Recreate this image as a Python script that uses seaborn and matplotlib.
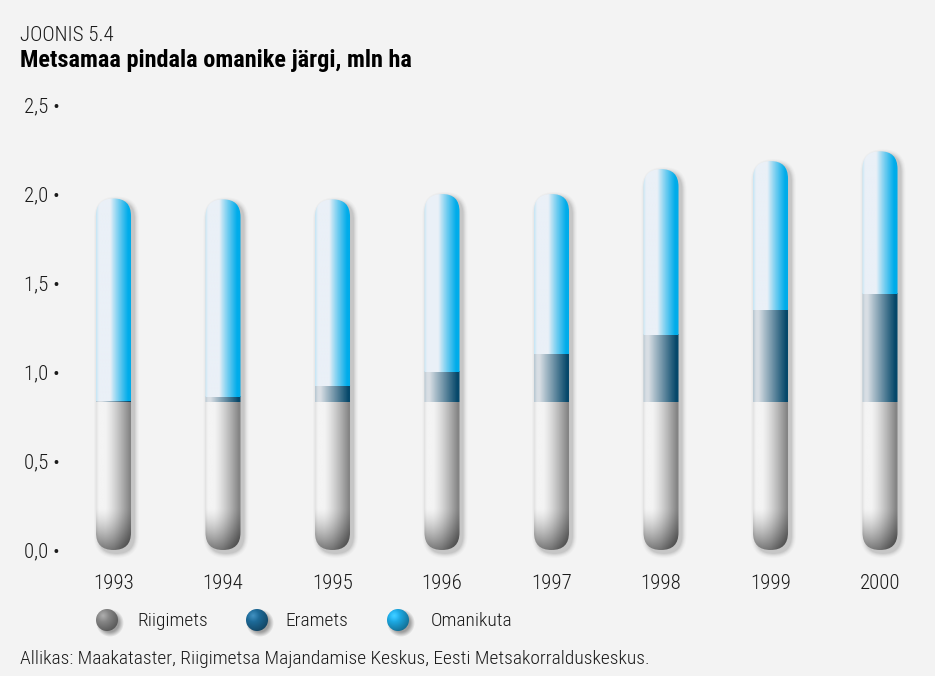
import numpy as np
import pandas as pd
import matplotlib
matplotlib.use("Agg")
import matplotlib.pyplot as plt
import seaborn as sns
from matplotlib.patches import FancyBboxPatch
from matplotlib import font_manager

# ---------------- data ----------------
years = ["1993", "1994", "1995", "1996", "1997", "1998", "1999", "2000"]
riigimets = [0.83, 0.83, 0.83, 0.83, 0.83, 0.83, 0.83, 0.83]
eramets = [0.005, 0.03, 0.09, 0.17, 0.27, 0.38, 0.52, 0.61]
omanikuta = [1.14, 1.11, 1.05, 1.00, 0.90, 0.93, 0.835, 0.80]
series_names = ["Riigimets", "Eramets", "Omanikuta"]
yticks = [0.0, 0.5, 1.0, 1.5, 2.0, 2.5]
ytick_labels = ["0,0 •", "0,5 •", "1,0 •", "1,5 •", "2,0 •", "2,5 •"]
label_kicker = "JOONIS 5.4"
title = "Metsamaa pindala omanike järgi, mln ha"
source = "Allikas: Maakataster, Riigimetsa Majandamise Keskus, Eesti Metsakorralduskeskus."

# ---------------- style ----------------
sns.set_theme(style="white")
names = {f.name for f in font_manager.fontManager.ttflist}
cond = [f for f in font_manager.fontManager.ttflist
        if f.name == "DejaVu Sans" and "Condensed" in f.fname]
if "Roboto Condensed" in names:
    base, stretch = "Roboto Condensed", "normal"
elif cond:
    base, stretch = "DejaVu Sans", "condensed"
else:
    base, stretch = "Roboto", "normal"
plt.rcParams["font.family"] = [base, "DejaVu Sans"]
plt.rcParams["font.stretch"] = stretch
TXT_W = "light"

BG = "#f3f3f3"
W, H = 935, 676
fig = plt.figure(figsize=(W / 100, H / 100), dpi=100, facecolor=BG)
ax_l, ax_r, ax_t, ax_b = 58.75, 934.75, 105.0, 550.0
ax = fig.add_axes([ax_l / W, (H - ax_b) / H, (ax_r - ax_l) / W, (ax_b - ax_t) / H])
ax.set_facecolor(BG)

df = pd.DataFrame({"year": years, "Riigimets": riigimets,
                   "Eramets": eramets, "Omanikuta": omanikuta})
df["c1"] = df["Riigimets"]
df["c2"] = df["c1"] + df["Eramets"]
df["c3"] = df["c2"] + df["Omanikuta"]

bw = 0.32
for col in ["c3", "c2", "c1"]:
    sns.barplot(data=df, x="year", y=col, order=years, ax=ax, width=bw,
                color="k", errorbar=None)

ax.set_xlim(-0.5, 7.5)
ax.set_ylim(0, 2.5)
ax.autoscale(False)

n = len(years)
pats = list(ax.patches)
tops = pats[:n]
mids = pats[n:2 * n]
bots = pats[2 * n:3 * n]

px_x = (ax_r - ax_l) / 8.0
px_y = (ax_b - ax_t) / 2.5
m_aspect = px_x / px_y
ry = (bw / 2) * m_aspect  # radius of the cap in y data units

light = {"Riigimets": np.array([244, 244, 244]) / 255,
         "Eramets": np.array([216, 222, 228]) / 255,
         "Omanikuta": np.array([234, 240, 247]) / 255}
dark = {"Riigimets": np.array([132, 132, 132]) / 255,
        "Eramets": np.array([6, 72, 106]) / 255,
        "Omanikuta": np.array([0, 172, 234]) / 255}
prof = {"Riigimets": (0.25, 0.70, 1.3),
        "Eramets": (0.15, 0.78, 1.0),
        "Omanikuta": (0.40, 0.50, 0.9)}


def hprofile(name, nc):
    t = np.linspace(0, 1, nc)
    s0, span, p = prof[name]
    w = np.clip((t - s0) / span, 0, 1) ** p
    edge = np.clip((0.08 - t) / 0.08, 0, 1) * 0.15
    return np.clip(w + edge, 0, 1)


def seg_image(name, y0, y1, nc=60):
    nr = max(2, int((y1 - y0) * px_y * 2))
    w = hprofile(name, nc)
    row = light[name][None, :] * (1 - w[:, None]) + dark[name][None, :] * w[:, None]
    img = np.repeat(row[None, :, :], nr, axis=0)
    ys = np.linspace(y1, y0, nr)  # top to bottom
    if name == "Riigimets":
        s = np.clip(1 - ys / (2.4 * ry), 0, 1) ** 1.4
        t = np.linspace(-1, 1, nc)
        horiz = 0.55 + 0.45 * np.abs(t)
        img = img * (1 - 0.55 * s[:, None, None] * (0.7 + 0.3 * horiz[None, :, None]))
    return np.clip(img, 0, 1)


for i in range(n):
    x0 = bots[i].get_x()
    c1 = bots[i].get_height()
    c2 = mids[i].get_height()
    c3 = tops[i].get_height()
    for p in (tops[i], mids[i], bots[i]):
        p.set_visible(False)

    # soft drop shadow
    for k, a in [(5, 0.02), (4, 0.025), (3, 0.035), (2, 0.05), (1, 0.06)]:
        gx = k / px_x
        gy = k / px_y
        sh = FancyBboxPatch((x0 + 3 / px_x - gx, -3 / px_y - gy), bw + 2 * gx, c3 + 2 * gy,
                            boxstyle=f"round,pad=0,rounding_size={bw / 2 + gx}",
                            mutation_aspect=m_aspect, transform=ax.transData,
                            facecolor="black", edgecolor="none", alpha=a,
                            zorder=2, clip_on=False)
        ax.add_patch(sh)

    clip = FancyBboxPatch((x0, 0), bw, c3,
                          boxstyle=f"round,pad=0,rounding_size={bw / 2}",
                          mutation_aspect=m_aspect, transform=ax.transData,
                          facecolor="none", edgecolor="none")
    for name, y0, y1 in [("Riigimets", 0, c1), ("Eramets", c1, c2), ("Omanikuta", c2, c3)]:
        if y1 - y0 <= 0:
            continue
        im = ax.imshow(seg_image(name, y0, y1), extent=(x0, x0 + bw, y0, y1),
                       aspect="auto", origin="upper", interpolation="bilinear",
                       zorder=3)
        im.set_clip_path(clip)
        im.set_clip_on(True)

for sp in ax.spines.values():
    sp.set_visible(False)
ax.set_xlabel("")
ax.set_ylabel("")
ax.set_yticks(yticks)
ax.set_yticklabels(ytick_labels)
ax.set_xticks(range(n))
ax.set_xticklabels(years)
ax.tick_params(axis="x", length=0, pad=17, labelsize=15, labelcolor="#1a1a1a")
ax.tick_params(axis="y", length=0, pad=-1, labelsize=15, labelcolor="#1a1a1a")
for lab in ax.get_xticklabels() + ax.get_yticklabels():
    lab.set_fontweight(TXT_W)
ax.grid(False)

# ---------------- texts ----------------
fig.text(20 / W, 1 - 41 / H, label_kicker, fontsize=15, color="#1a1a1a",
         va="baseline", fontweight=TXT_W)
fig.text(20 / W, 1 - 67 / H, title, fontsize=17.5, fontweight="bold", color="#000000",
         va="baseline")
fig.text(20 / W, 1 - 664 / H, source, fontsize=14, color="#1a1a1a", va="baseline",
         fontweight=TXT_W)

# ---------------- legend ----------------
leg_cols = ["#8c8c8c", "#1f6f9f", "#1eb0ec"]
leg_cx = [107, 257, 398]
leg_tx = [137, 285, 431]
leg_cy = 620


def sphere(color_hex, d=22, S=32):
    col = np.array(matplotlib.colors.to_rgb(color_hex))
    c = d / 2 + 1
    yy, xx = np.mgrid[0:S, 0:S] + 0.5
    r = d / 2
    dsh = np.sqrt((xx - c - 3) ** 2 + (yy - c - 3) ** 2)
    sh_a = np.clip(1 - (dsh - r + 2) / 5, 0, 1) * 0.35
    dist = np.sqrt((xx - c) ** 2 + (yy - c) ** 2)
    inside = np.clip(r - dist + 0.5, 0, 1)
    lx, ly = c - 0.35 * r, c - 0.4 * r
    dl = np.sqrt((xx - lx) ** 2 + (yy - ly) ** 2) / (1.6 * r)
    shade = np.clip(1.15 - 0.55 * dl, 0.6, 1.15)
    rgb = np.clip(col[None, None, :] * shade[..., None], 0, 1)
    rgb = rgb + (1 - rgb) * (np.clip(0.35 - dl, 0, 1) * 0.4)[..., None]
    a = inside + sh_a * (1 - inside)
    out = np.zeros((S, S, 4))
    out[..., :3] = rgb * inside[..., None]
    out[..., 3] = a
    safe = np.where(a > 0, a, 1)
    out[..., :3] = out[..., :3] / safe[..., None]
    return out, c, S


for colr, cx, tx, name in zip(leg_cols, leg_cx, leg_tx, series_names):
    img, c, S = sphere(colr)
    xo = int(round(cx - c))
    yo = int(round(H - leg_cy - S + c))
    fig.figimage(img, xo=xo, yo=yo, origin="upper", zorder=5)
    fig.text(tx / W, 1 - (leg_cy + 1) / H, name, fontsize=14, color="#1a1a1a",
             va="center", fontweight=TXT_W)

fig.savefig("out.png", dpi=100, facecolor=BG)
